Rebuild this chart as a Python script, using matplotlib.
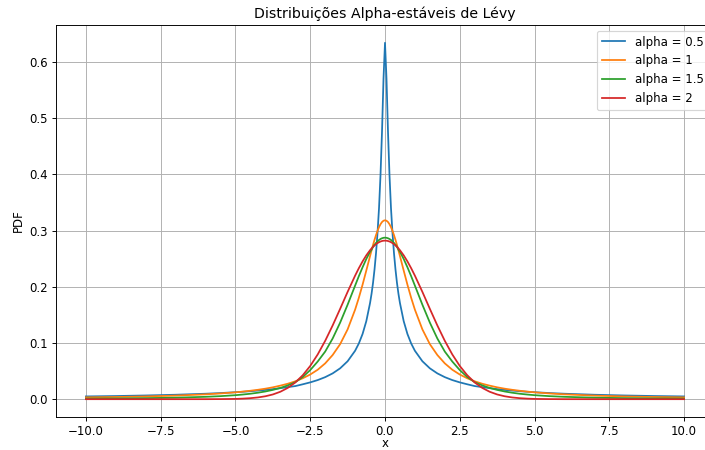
import matplotlib
matplotlib.use("Agg")
import matplotlib.pyplot as plt
import numpy as np

# half-curves (x >= 0); curves are symmetric
x_half = [0, 0.05, 0.1, 0.15, 0.2, 0.25, 0.3, 0.35, 0.4, 0.45, 0.5, 0.625, 0.75,
          0.875, 1, 1.25, 1.5, 1.75, 2, 2.25, 2.5, 2.75, 3, 3.25, 3.5, 3.75, 4,
          4.25, 4.5, 4.75, 5, 5.5, 6, 7, 8, 9, 10]

pdf_a05 = [0.634, 0.570, 0.476, 0.399, 0.340, 0.296, 0.260, 0.231, 0.207, 0.1874,
           0.171, 0.1388, 0.116, 0.0991, 0.0861, 0.0675, 0.0549, 0.0459, 0.0392,
           0.0340, 0.0299, 0.0265, 0.0233, 0.0215, 0.0196, 0.0179, 0.0165, 0.0153,
           0.0142, 0.0132, 0.0124, 0.0109, 0.0097, 0.0079, 0.0066, 0.0056, 0.0049]
pdf_a1 = [0.3183, 0.3175, 0.3152, 0.3113, 0.3061, 0.2996, 0.2920, 0.2836, 0.2744,
          0.2647, 0.2546, 0.2289, 0.2037, 0.1803, 0.1592, 0.1242, 0.0979, 0.0786,
          0.0637, 0.0524, 0.0439, 0.0372, 0.0318, 0.0275, 0.0241, 0.0211, 0.0187,
          0.0167, 0.0150, 0.0135, 0.0122, 0.0102, 0.0086, 0.0064, 0.0049, 0.0039,
          0.0032]
pdf_a15 = [0.2874, 0.2871, 0.2863, 0.2850, 0.2832, 0.2808, 0.2780, 0.2747, 0.2710,
           0.2659, 0.2623, 0.2494, 0.2347, 0.2188, 0.2020, 0.1681, 0.1362, 0.1080,
           0.0847, 0.0670, 0.0518, 0.0395, 0.0302, 0.0246, 0.0200, 0.0165, 0.0137,
           0.0115, 0.0097, 0.0083, 0.0071, 0.0054, 0.0042, 0.0027, 0.0019, 0.0014,
           0.00105]
pdf_a2 = [0.2821, 0.2819, 0.2814, 0.2805, 0.2793, 0.2777, 0.2758, 0.2736, 0.2710,
          0.2682, 0.2650, 0.2559, 0.2451, 0.2330, 0.2197, 0.1909, 0.1607, 0.1312,
          0.1038, 0.0796, 0.0591, 0.0426, 0.0297, 0.0201, 0.0132, 0.0084, 0.0052,
          0.0031, 0.0018, 0.0010, 0.0005, 0.00015, 0.00003, 0, 0, 0, 0]

alphas = ["0.5", "1", "1.5", "2"]
series = [pdf_a05, pdf_a1, pdf_a15, pdf_a2]

def mirror(xs, ys):
    xs = np.asarray(xs, dtype=float)
    ys = np.asarray(ys, dtype=float)
    return np.concatenate([-xs[:0:-1], xs]), np.concatenate([ys[:0:-1], ys])

DPI = 84.5
fig = plt.figure(figsize=(705 / DPI, 450 / DPI), dpi=DPI)
ax = fig.add_axes([56 / 705, 1 - 417 / 450, 658 / 705, 392 / 450])

for a, ys in zip(alphas, series):
    xx, yy = mirror(x_half, ys)
    ax.plot(xx, yy, label=f"alpha = {a}")

ax.set_title("Distribuições Alpha-estáveis de Lévy")
ax.set_xlabel("x", labelpad=-1)
ax.set_ylabel("PDF")
ax.legend(loc="upper right")
ax.grid(True)

fig.savefig("out.png", dpi=DPI)
